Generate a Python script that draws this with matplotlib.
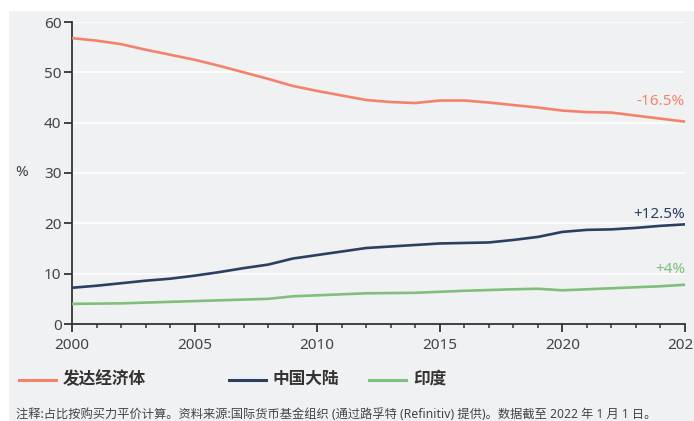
import matplotlib.pyplot as plt
from matplotlib.patches import Rectangle
from matplotlib.lines import Line2D
from matplotlib.ticker import MultipleLocator

plt.rcParams['font.family'] = ['Noto Sans', 'Noto Sans CJK SC', 'DejaVu Sans']

years = list(range(2000, 2026))
developed = [56.8, 56.3, 55.6, 54.5, 53.5, 52.5, 51.3, 50.0, 48.7, 47.3,
             46.3, 45.4, 44.5, 44.1, 43.9, 44.4, 44.4, 44.0, 43.5, 43.0,
             42.4, 42.1, 42.0, 41.4, 40.8, 40.2]
china = [7.2, 7.6, 8.1, 8.6, 9.0, 9.6, 10.3, 11.1, 11.8, 13.0,
         13.7, 14.4, 15.1, 15.4, 15.7, 16.0, 16.1, 16.2, 16.7, 17.3,
         18.3, 18.7, 18.8, 19.1, 19.5, 19.8]
india = [4.0, 4.05, 4.1, 4.25, 4.4, 4.55, 4.7, 4.85, 5.0, 5.5,
         5.7, 5.9, 6.1, 6.15, 6.2, 6.4, 6.6, 6.75, 6.9, 7.0,
         6.7, 6.9, 7.1, 7.3, 7.5, 7.8]

names = ['发达经济体', '中国大陆', '印度']
changes = ['-16.5%', '+12.5%', '+4%']
colors = ['#F4826A', '#2B3F60', '#7FBF7B']
label_colors = ['#F4826A', '#2B3F60', '#7FBF7B']

bg = '#F0F1F3'
txt = '#444444'
W, H = 694, 421

fig = plt.figure(figsize=(6.94, 4.21), dpi=100)
fig.patches.append(Rectangle((9 / W, 0), 1, (H - 11) / H,
                             transform=fig.transFigure, facecolor=bg,
                             edgecolor='none', zorder=-5))

ax = fig.add_axes([72 / W, 97 / H, 613 / W, 302 / H])
ax.set_facecolor(bg)

for series, c in zip([developed, china, india], colors):
    ax.plot(years, series, color=c, lw=1.9, solid_capstyle='butt', zorder=3, clip_on=False)

# end-of-line change labels
label_y = [44.3, 21.8, 10.9]
for lab, c, y in zip(changes, label_colors, label_y):
    ax.text(2025, y, lab, color=c, fontsize=11, ha='right', va='center')

ax.set_xlim(2000, 2025)
ax.set_ylim(0, 60)
ax.yaxis.set_major_locator(MultipleLocator(10))
ax.xaxis.set_major_locator(MultipleLocator(5))
ax.xaxis.set_minor_locator(MultipleLocator(1))
ax.grid(axis='y', color='white', lw=1.2, zorder=1)
ax.set_axisbelow(True)

for s in ['top', 'right']:
    ax.spines[s].set_visible(False)
for s in ['left', 'bottom']:
    ax.spines[s].set_color('#333333')
    ax.spines[s].set_linewidth(1.3)

ax.tick_params(axis='both', which='major', length=6, width=1.3, color='#333333',
               labelsize=11, labelcolor=txt)
ax.tick_params(axis='y', which='major', pad=1.5)
ax.tick_params(axis='x', which='major', pad=4)
ax.tick_params(axis='x', which='minor', length=3, width=1.1, color='#333333')

fig.text(22 / W, (H - 172) / H, '%', fontsize=11, color=txt, ha='center', va='center')

# legend row drawn by hand
leg_x = [19, 229, 369]
leg_y = (H - 380) / H
for x0, name, c in zip(leg_x, names, colors):
    fig.add_artist(Line2D([x0 / W, (x0 + 37) / W], [leg_y, leg_y], color=c, lw=2.2,
                          transform=fig.transFigure))
    fig.text((x0 + 44) / W, leg_y, name, fontsize=12, fontweight='bold',
             color='#333333', ha='left', va='center')

fig.text(16 / W, (H - 414) / H,
         '注释:占比按购买力平价计算。资料来源:国际货币基金组织 (通过路孚特 (Refinitiv) 提供)。数据截至 2022 年 1 月 1 日。',
         fontsize=8.8, color=txt, ha='left', va='center')

fig.savefig('out.png', dpi=100)
